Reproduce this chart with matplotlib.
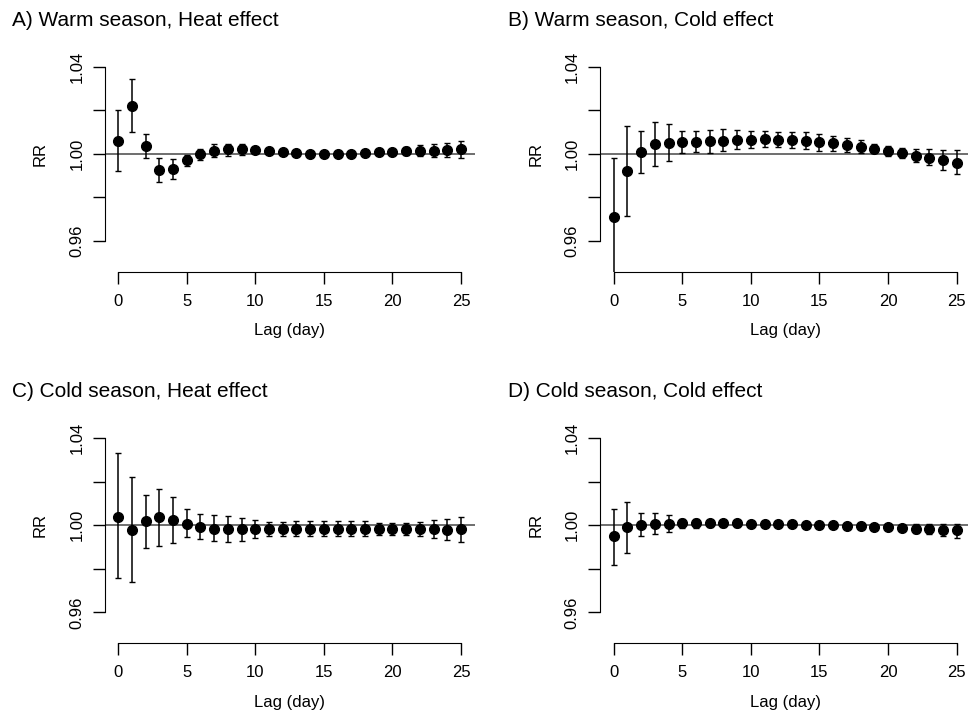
import matplotlib.pyplot as plt
import numpy as np

plt.rcParams['font.family'] = ['Liberation Sans', 'DejaVu Sans']

lags = np.arange(26)

# A) warm season, heat effect
rr_a = [1.0058, 1.0219, 1.0035, 0.9925, 0.9931, 0.9971, 1.0000, 1.0014, 1.0021, 1.0020,
        1.0017, 1.0012, 1.0008, 1.0005, 1.0000, 1.0000, 1.0000, 1.0001, 1.0005, 1.0008,
        1.0010, 1.0014, 1.0015, 1.0015, 1.0018, 1.0021]
lo_a = [0.9920, 1.0098, 0.9979, 0.9870, 0.9884, 0.9942, 0.9972, 0.9985, 0.9992, 0.9995,
        1.0005, 1.0002, 0.9999, 0.9998, 0.9993, 0.9993, 0.9993, 0.9993, 0.9996, 0.9997,
        0.9996, 0.9996, 0.9990, 0.9984, 0.9986, 0.9982]
hi_a = [1.0199, 1.0343, 1.0092, 0.9983, 0.9975, 0.9997, 1.0023, 1.0043, 1.0046, 1.0044,
        1.0029, 1.0022, 1.0017, 1.0012, 1.0007, 1.0007, 1.0007, 1.0009, 1.0014, 1.0019,
        1.0024, 1.0032, 1.0040, 1.0047, 1.0049, 1.0060]

# B) warm season, cold effect
rr_b = [0.9710, 0.9922, 1.0009, 1.0043, 1.0052, 1.0054, 1.0055, 1.0058, 1.0061, 1.0063,
        1.0064, 1.0066, 1.0064, 1.0063, 1.0060, 1.0054, 1.0048, 1.0041, 1.0032, 1.0023,
        1.0014, 1.0002, 0.9992, 0.9983, 0.9971, 0.9959]
lo_b = [0.9440, 0.9715, 0.9913, 0.9942, 0.9969, 1.0003, 1.0009, 1.0006, 1.0011, 1.0020,
        1.0028, 1.0032, 1.0031, 1.0025, 1.0021, 1.0015, 1.0012, 1.0008, 1.0002, 1.0003,
        0.9992, 0.9979, 0.9963, 0.9948, 0.9928, 0.9907]
hi_b = [0.9979, 1.0130, 1.0106, 1.0144, 1.0138, 1.0107, 1.0106, 1.0110, 1.0112, 1.0109,
        1.0104, 1.0103, 1.0101, 1.0101, 1.0098, 1.0093, 1.0084, 1.0075, 1.0064, 1.0047,
        1.0037, 1.0028, 1.0020, 1.0020, 1.0017, 1.0017]

# C) cold season, heat effect
rr_c = [1.0040, 0.9980, 1.0018, 1.0037, 1.0026, 1.0008, 0.9994, 0.9985, 0.9982, 0.9982,
        0.9982, 0.9982, 0.9982, 0.9983, 0.9983, 0.9983, 0.9983, 0.9983, 0.9983, 0.9983,
        0.9982, 0.9982, 0.9982, 0.9982, 0.9980, 0.9982]
lo_c = [0.9757, 0.9740, 0.9898, 0.9907, 0.9921, 0.9947, 0.9937, 0.9927, 0.9924, 0.9930,
        0.9942, 0.9949, 0.9950, 0.9951, 0.9951, 0.9951, 0.9952, 0.9952, 0.9953, 0.9957,
        0.9955, 0.9955, 0.9951, 0.9943, 0.9934, 0.9922]
hi_c = [1.0330, 1.0223, 1.0140, 1.0168, 1.0131, 1.0073, 1.0053, 1.0049, 1.0044, 1.0035,
        1.0024, 1.0017, 1.0017, 1.0019, 1.0020, 1.0020, 1.0020, 1.0020, 1.0018, 1.0012,
        1.0009, 1.0011, 1.0014, 1.0023, 1.0031, 1.0040]

# D) cold season, cold effect
rr_d = [0.9950, 0.9992, 1.0003, 1.0006, 1.0008, 1.0009, 1.0009, 1.0009, 1.0009, 1.0009,
        1.0008, 1.0006, 1.0006, 1.0005, 1.0003, 1.0000, 1.0000, 0.9997, 0.9995, 0.9994,
        0.9991, 0.9988, 0.9985, 0.9983, 0.9980, 0.9977]
lo_d = [0.9817, 0.9872, 0.9953, 0.9960, 0.9967, 0.9989, 0.9989, 0.9990, 0.9991, 0.9992,
        0.9993, 0.9993, 0.9994, 0.9993, 0.9992, 0.9990, 0.9989, 0.9987, 0.9985, 0.9983,
        0.9979, 0.9975, 0.9963, 0.9962, 0.9953, 0.9944]
hi_d = [1.0075, 1.0107, 1.0056, 1.0056, 1.0047, 1.0027, 1.0027, 1.0026, 1.0025, 1.0024,
        1.0022, 1.0020, 1.0018, 1.0017, 1.0014, 1.0011, 1.0010, 1.0008, 1.0006, 1.0005,
        1.0003, 1.0001, 1.0006, 1.0005, 1.0005, 1.0006]

titles = ['A) Warm season, Heat effect', 'B) Warm season, Cold effect',
          'C) Cold season, Heat effect', 'D) Cold season, Cold effect']
panels = [(rr_a, lo_a, hi_a), (rr_b, lo_b, hi_b), (rr_c, lo_c, hi_c), (rr_d, lo_d, hi_d)]
ytick_vals = [0.96, 0.98, 1.00, 1.02, 1.04]
ytick_text = ['0.96', '', '1.00', '', '1.04']
xticks = [0, 5, 10, 15, 20, 25]

W, H = 968, 716
fig = plt.figure(figsize=(W / 100, H / 100), dpi=100)

# axes boxes in pixels: left, top, right, bottom
boxes = [(104.5, 36.2, 474.7, 271.5), (600.0, 36.2, 970.4, 271.5),
         (104.5, 407.6, 474.7, 643.0), (600.0, 407.6, 970.4, 643.0)]

for (rr, lo, hi), box, title in zip(panels, boxes, titles):
    l, t, r, b = box
    w, h = r - l, b - t
    ax = fig.add_axes([l / W, 1 - b / H, w / W, h / H])
    rr = np.array(rr)
    err = [rr - np.array(lo), np.array(hi) - rr]
    ax.axhline(1.0, color='#555555', lw=1.2, zorder=1)
    ax.errorbar(lags, rr, yerr=err, fmt='o', color='black', ms=7,
                elinewidth=1.1, capsize=2.5, capthick=1.0, zorder=3)
    ax.set_xlim(-1, 26)
    ax.set_ylim(0.946, 1.054)
    ax.set_xticks(xticks)
    ax.set_yticks(ytick_vals)
    ax.set_yticklabels(ytick_text)
    ax.spines['top'].set_visible(False)
    ax.spines['right'].set_visible(False)
    ax.spines['left'].set_bounds(0.96, 1.04)
    ax.spines['bottom'].set_bounds(0, 25)
    ax.tick_params(axis='both', length=8.5, width=1, labelsize=12)
    ax.tick_params(axis='x', pad=7.4)
    ax.tick_params(axis='y', pad=6, labelrotation=90)
    for lab in ax.get_yticklabels():
        lab.set_va('center')
    ax.set_xlabel('Lag (day)', fontsize=12)
    ax.xaxis.set_label_coords(0.5, -59 / h)
    ax.xaxis.label.set_va('center')
    ax.set_ylabel('RR', fontsize=12)
    ax.yaxis.set_label_coords(-64 / w, 0.5)
    ax.yaxis.label.set_va('center')
    # panel heading sits left of the axis, above the plotting region
    ax.text(-92.5 / w, 1 + 16 / h, title, transform=ax.transAxes,
            fontsize=15, va='center', ha='left')

fig.savefig('out.png', dpi=100)
